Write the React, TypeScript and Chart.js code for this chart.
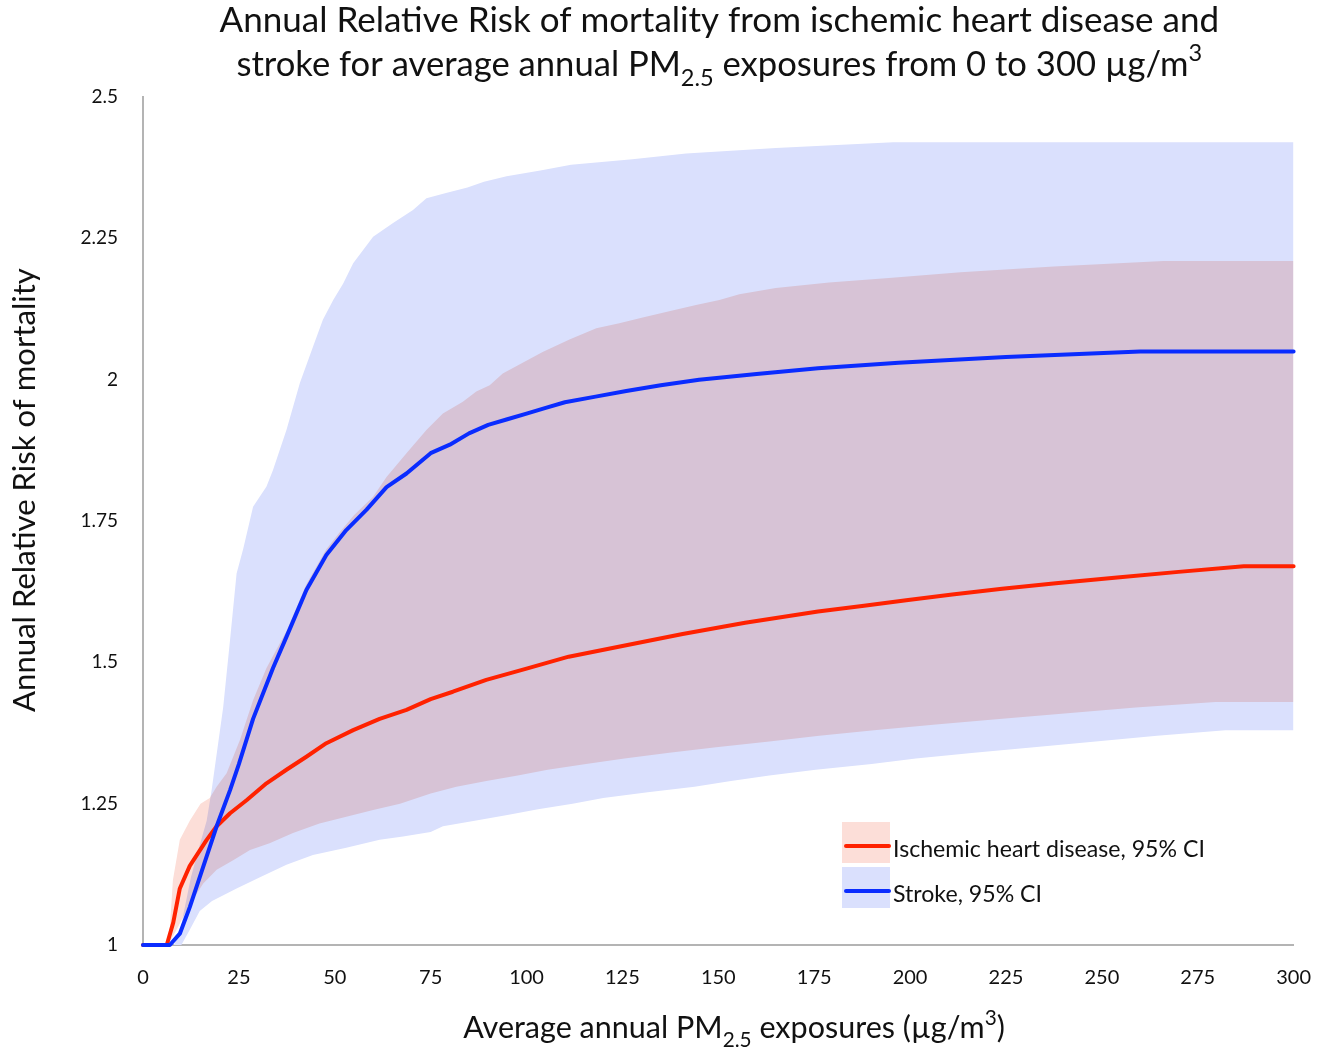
import React, { useEffect, useRef } from "react";
import { Chart, registerables } from "chart.js";

Chart.register(...registerables);

// ---------- data ----------
const ihdX = [0, 6.2, 7.9, 9.6, 12.2, 16.6, 19.2, 22.7, 27, 32.2, 37.4, 42.6, 47.8, 54.8, 61.7, 68.7, 75, 80.8, 89.5, 100, 111, 125, 140.7, 157, 176, 188, 199, 211, 224, 238, 254, 270, 287, 300];
const ihdRR = [1, 1, 1.04, 1.1, 1.14, 1.186, 1.21, 1.233, 1.256, 1.286, 1.31, 1.333, 1.357, 1.38, 1.4, 1.416, 1.435, 1.448, 1.469, 1.489, 1.51, 1.529, 1.55, 1.57, 1.59, 1.6, 1.61, 1.62, 1.63, 1.64, 1.65, 1.66, 1.67, 1.67];

const ihdLowX = [0, 6.5, 9, 12, 15.7, 19.2, 23.5, 27.9, 33, 39.1, 46, 53, 60, 67, 75, 81.7, 89.5, 97.7, 105.5, 115.5, 125.5, 137.2, 149.4, 163.3, 176.3, 190.6, 206.7, 224, 241, 258.8, 279.6, 300];
const ihdLowRR = [1, 1, 1.03, 1.07, 1.109, 1.133, 1.15, 1.168, 1.18, 1.198, 1.215, 1.227, 1.239, 1.25, 1.268, 1.28, 1.29, 1.3, 1.31, 1.32, 1.33, 1.34, 1.35, 1.36, 1.37, 1.38, 1.39, 1.4, 1.41, 1.42, 1.43, 1.43];

const ihdHighX = [0, 6.2, 7, 7.8, 9.6, 12.2, 15, 17.4, 19.2, 21.8, 25.3, 28.7, 32.2, 37.4, 42.6, 47.8, 51.3, 55, 60, 63.5, 68.7, 73.9, 78.2, 83.4, 86.9, 90.4, 93.8, 99, 104.2, 111.2, 118.2, 124.2, 130.3, 137.2, 144.2, 150.3, 155.5, 165, 178.9, 194.5, 213.2, 237.5, 266.1, 300];
const ihdHighRR = [1, 1, 1.03, 1.115, 1.186, 1.22, 1.25, 1.26, 1.28, 1.304, 1.363, 1.433, 1.49, 1.555, 1.638, 1.7, 1.73, 1.76, 1.793, 1.828, 1.87, 1.911, 1.94, 1.961, 1.979, 1.99, 2.011, 2.03, 2.049, 2.071, 2.091, 2.1, 2.11, 2.121, 2.132, 2.141, 2.151, 2.162, 2.172, 2.18, 2.19, 2.2, 2.21, 2.21];

const strokeX = [0, 7, 9.6, 12.2, 14.8, 19.2, 22.7, 25, 28.7, 33.9, 37.4, 42.6, 47.8, 53, 58.3, 63.5, 68.7, 75, 80, 85, 90, 95, 100, 105, 110, 118, 126, 135, 145, 160, 176, 197, 225, 260, 300];
const strokeRR = [1, 1, 1.02, 1.067, 1.12, 1.21, 1.274, 1.32, 1.4, 1.49, 1.545, 1.628, 1.69, 1.734, 1.77, 1.81, 1.834, 1.87, 1.885, 1.905, 1.92, 1.93, 1.94, 1.95, 1.96, 1.97, 1.98, 1.99, 2.0, 2.01, 2.02, 2.03, 2.04, 2.05, 2.05];

const strokeLowX = [0, 10, 12.2, 14.8, 18, 24.4, 30.5, 37.4, 44.3, 53, 61.7, 67.8, 75, 78.2, 86.5, 95, 103, 112, 120, 131.6, 143.8, 153.3, 163.3, 175.4, 190, 201.5, 216.7, 232.3, 248.4, 264.4, 282.2, 300];
const strokeLowRR = [1, 1, 1.027, 1.06, 1.078, 1.1, 1.12, 1.142, 1.159, 1.172, 1.186, 1.192, 1.2, 1.21, 1.22, 1.23, 1.24, 1.25, 1.26, 1.27, 1.28, 1.29, 1.3, 1.31, 1.32, 1.33, 1.34, 1.35, 1.36, 1.37, 1.38, 1.38];

const strokeHighX = [0, 8, 9.5, 11, 12.5, 14.5, 16.6, 17.9, 20.9, 22.7, 24.4, 26.1, 28.7, 32.2, 33.9, 37.4, 40.9, 44.3, 46.9, 49.6, 52.2, 54.8, 60, 65.2, 70.4, 73.9, 79, 84.6, 88.9, 94.8, 103.6, 111.6, 127.6, 141.6, 165, 195.6, 300];
const strokeHighRR = [1, 1, 1.02, 1.07, 1.12, 1.17, 1.22, 1.274, 1.42, 1.54, 1.657, 1.7, 1.775, 1.811, 1.84, 1.911, 1.994, 2.058, 2.106, 2.141, 2.17, 2.206, 2.253, 2.277, 2.3, 2.321, 2.33, 2.34, 2.35, 2.36, 2.37, 2.38, 2.39, 2.4, 2.41, 2.42, 2.42];

const xTicks = [0, 25, 50, 75, 100, 125, 150, 175, 200, 225, 250, 275, 300];
const yTicks = [1, 1.25, 1.5, 1.75, 2, 2.25, 2.5];
const yTickLabels = ["1", "1.25", "1.5", "1.75", "2", "2.25", "2.5"];

const legendLabels = ["Ischemic heart disease, 95% CI", "Stroke, 95% CI"];

type Part = [string, "n" | "sub" | "sup"];
const titleLine1: Part[] = [["Annual Relative Risk of mortality from ischemic heart disease and", "n"]];
const titleLine2: Part[] = [
  ["stroke for average annual PM", "n"],
  ["2.5", "sub"],
  [" exposures from 0 to 300 µg/m", "n"],
  ["3", "sup"],
];
const xTitle: Part[] = [
  ["Average annual PM", "n"],
  ["2.5", "sub"],
  [" exposures (µg/m", "n"],
  ["3", "sup"],
  [")", "n"],
];
const yTitle: Part[] = [["Annual Relative Risk of mortality", "n"]];

// ---------- styles ----------
const FONT = "Lato, 'DejaVu Sans', sans-serif";
const RED = "#ff2200";
const BLUE = "#0a2cff";
const PINK = "rgb(252,222,216)";
const LIGHTBLUE = "rgb(218,224,253)";
const TEXT = "#111111";

const zip = (xs: number[], ys: number[]) => xs.map((x, i) => ({ x, y: ys[i] }));

function fontFor(kind: string, size: number) {
  const s = kind === "n" ? size : size * 0.68;
  return `${s}px ${FONT}`;
}
function richWidth(ctx: CanvasRenderingContext2D, parts: Part[], size: number) {
  let w = 0;
  for (const [t, k] of parts) {
    ctx.font = fontFor(k, size);
    w += ctx.measureText(t).width;
  }
  return w;
}
function fitSize(ctx: CanvasRenderingContext2D, parts: Part[], target: number) {
  return (100 * target) / richWidth(ctx, parts, 100);
}
function drawRich(ctx: CanvasRenderingContext2D, parts: Part[], x: number, baseline: number, size: number, align: "center" | "left") {
  const total = richWidth(ctx, parts, size);
  let cx = align === "center" ? x - total / 2 : x;
  ctx.textAlign = "left";
  ctx.textBaseline = "alphabetic";
  for (const [t, k] of parts) {
    ctx.font = fontFor(k, size);
    const dy = k === "sub" ? size * 0.3 : k === "sup" ? -size * 0.42 : 0;
    ctx.fillText(t, cx, baseline + dy);
    cx += ctx.measureText(t).width;
  }
}

export default function App() {
  const ref = useRef<HTMLCanvasElement>(null);

  useEffect(() => {
    document.body.style.margin = "0";
    const IHD_LOW = 4;
    const IHD_HIGH = 5;

    const blendPlugin = {
      id: "blendBands",
      afterDatasetDraw(chart: any, args: any) {
        if (args.index === IHD_LOW) chart.ctx.globalCompositeOperation = "multiply";
        if (args.index === IHD_HIGH) chart.ctx.globalCompositeOperation = "source-over";
      },
    };

    const textPlugin = {
      id: "richText",
      afterDraw(chart: any) {
        const ctx: CanvasRenderingContext2D = chart.ctx;
        const ca = chart.chartArea;
        ctx.save();
        ctx.fillStyle = TEXT;
        const cxTitle = (ca.left + ca.right) / 2 + 1;
        const s1 = fitSize(ctx, titleLine1, 1000);
        const s2 = fitSize(ctx, titleLine2, 966);
        drawRich(ctx, titleLine1, cxTitle, 32, s1, "center");
        drawRich(ctx, titleLine2, cxTitle, 76, s2, "center");

        const sx = fitSize(ctx, xTitle, 542);
        drawRich(ctx, xTitle, 734, 1038, sx, "center");

        const sy = fitSize(ctx, yTitle, 444);
        ctx.save();
        ctx.translate(35, 490);
        ctx.rotate(-Math.PI / 2);
        drawRich(ctx, yTitle, 0, 0, sy, "center");
        ctx.restore();

        // legend
        const lx = ca.left + 699;
        const ly = ca.top + 725;
        const rows = [
          { fill: PINK, line: RED, label: legendLabels[0] },
          { fill: LIGHTBLUE, line: BLUE, label: legendLabels[1] },
        ];
        const ls = fitSize(ctx, [[legendLabels[0], "n"]], 312);
        rows.forEach((r, i) => {
          const top = ly + i * 45;
          ctx.fillStyle = r.fill;
          ctx.fillRect(lx, top, 48, 41);
          ctx.strokeStyle = r.line;
          ctx.lineWidth = 4;
          ctx.lineCap = "round";
          ctx.beginPath();
          ctx.moveTo(lx + 4, top + 24);
          ctx.lineTo(lx + 47, top + 24);
          ctx.stroke();
          ctx.fillStyle = TEXT;
          drawRich(ctx, [[r.label, "n"]], lx + 51, top + 35, ls, "left");
        });
        ctx.restore();
      },
    };

    const lineDs = (label: string, xs: number[], ys: number[], color: string, order: number) => ({
      label,
      data: zip(xs, ys),
      borderColor: color,
      backgroundColor: color,
      borderWidth: 4,
      pointRadius: 0,
      tension: 0,
      fill: false,
      clip: false as any,
      order,
      borderJoinStyle: "round" as const,
      borderCapStyle: "round" as const,
    });
    const bandDs = (label: string, xs: number[], ys: number[], fill: any, color: string, order: number) => ({
      label,
      data: zip(xs, ys),
      borderColor: "rgba(0,0,0,0)",
      backgroundColor: color,
      borderWidth: 0,
      pointRadius: 0,
      tension: 0,
      fill,
      order,
    });

    const chart = new Chart(ref.current as HTMLCanvasElement, {
      type: "line",
      data: {
        datasets: [
          lineDs("Ischemic heart disease", ihdX, ihdRR, RED, 1),
          lineDs("Stroke", strokeX, strokeRR, BLUE, 0),
          bandDs("Stroke lower 95% CI", strokeLowX, strokeLowRR, false, LIGHTBLUE, 5),
          bandDs("Stroke upper 95% CI", strokeHighX, strokeHighRR, 2, LIGHTBLUE, 4),
          bandDs("IHD lower 95% CI", ihdLowX, ihdLowRR, false, PINK, 3),
          bandDs("IHD upper 95% CI", ihdHighX, ihdHighRR, 4, PINK, 2),
        ] as any,
      },
      options: {
        animation: false,
        responsive: true,
        maintainAspectRatio: false,
        devicePixelRatio: 1,
        layout: { padding: { top: 97, right: 37, left: 0, bottom: 0 } },
        plugins: {
          legend: { display: false },
          title: { display: false },
          tooltip: { enabled: false },
        },
        scales: {
          x: {
            type: "linear",
            min: 0,
            max: 300,
            afterFit: (s: any) => {
              s.height = 103;
            },
            afterBuildTicks: (s: any) => {
              s.ticks = xTicks.map((v) => ({ value: v }));
            },
            grid: { display: true, color: "rgba(0,0,0,0)", drawTicks: false },
            border: { display: true, color: "#b4b4b4", width: 2 },
            ticks: {
              padding: 21,
              color: TEXT,
              font: { family: FONT, size: 20 },
              maxRotation: 0,
              autoSkip: false,
              callback: (v: any) => String(v),
            },
          },
          y: {
            type: "linear",
            min: 1,
            max: 2.5,
            afterFit: (s: any) => {
              s.width = 143;
            },
            afterBuildTicks: (s: any) => {
              s.ticks = yTicks.map((v) => ({ value: v }));
            },
            grid: { display: true, color: "rgba(0,0,0,0)", drawTicks: false },
            border: { display: true, color: "#b4b4b4", width: 2 },
            ticks: {
              padding: 25,
              color: TEXT,
              font: { family: FONT, size: 19 },
              autoSkip: false,
              callback: (v: any) => {
                const i = yTicks.indexOf(Number(v));
                return i >= 0 ? yTickLabels[i] : String(v);
              },
            },
          },
        },
      } as any,
      plugins: [blendPlugin, textPlugin],
    });
    return () => chart.destroy();
  }, []);

  return (
    <div style={{ position: "relative", width: 1332, height: 1048 }}>
      <canvas ref={ref} />
    </div>
  );
}
